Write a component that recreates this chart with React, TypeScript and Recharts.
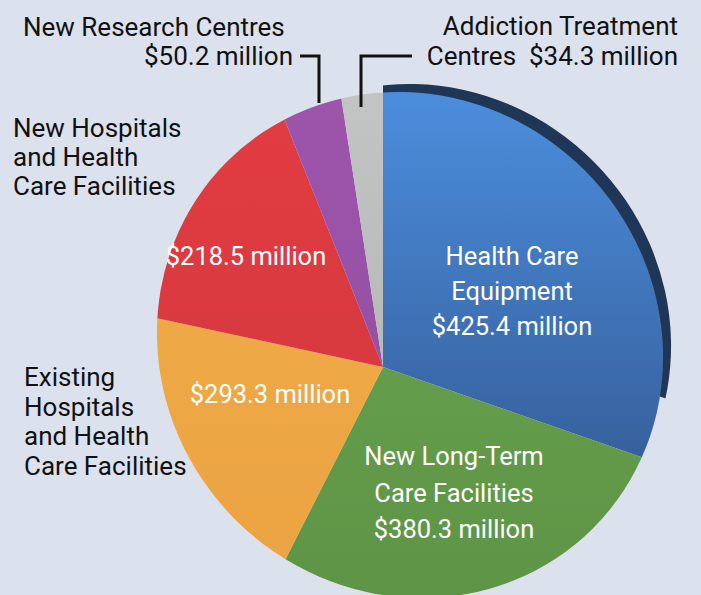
import React from 'react';
import { PieChart, Pie, Cell } from 'recharts';

const categories = [
  'Health Care Equipment',
  'New Long-Term Care Facilities',
  'Existing Hospitals and Health Care Facilities',
  'New Hospitals and Health Care Facilities',
  'New Research Centres',
  'Addiction Treatment Centres',
];
const values = [425.4, 380.3, 293.3, 218.5, 50.2, 34.3];
const nameLines = [
  ['Health Care', 'Equipment'],
  ['New Long-Term', 'Care Facilities'],
  ['Existing', 'Hospitals', 'and Health', 'Care Facilities'],
  ['New Hospitals', 'and Health', 'Care Facilities'],
  ['New Research Centres'],
  ['Addiction Treatment', 'Centres'],
];
const colorsTop = ['#4b8ddb', '#6aa852', '#f2ad48', '#e23c41', '#9d55ac', '#c2c4c3'];
const colorsBottom = ['#365f9b', '#5e9446', '#eba343', '#cf383e', '#8e4c9c', '#aeb1b0'];

const data = categories.map((name, i) => ({ name, value: values[i] }));
const money = (v: number) => `$${v.toFixed(1)} million`;

const FONT = "Roboto, 'Liberation Sans', Arial, sans-serif";
const FS = 26;

const lines = (
  arr: string[],
  x: number,
  y: number,
  lh: number,
  anchor: 'start' | 'middle' | 'end',
  fill: string,
  key: string,
  size: number = FS
) => (
  <text
    key={key}
    x={x}
    y={y}
    textAnchor={anchor}
    fill={fill}
    fontFamily={FONT}
    fontSize={size}
    style={{ whiteSpace: 'pre' }}
  >
    {arr.map((t, i) => (
      <tspan key={i} x={x} y={y + i * lh}>
        {t}
      </tspan>
    ))}
  </text>
);

const renderLabel = (props: any) => {
  const i = props.index;
  const v = values[i];
  const n = nameLines[i];
  if (i === 0) return <g key="l0">{lines([...n, money(v)], 512, 265, 35, 'middle', '#fff', 'a', 25.5)}</g>;
  if (i === 1) return <g key="l1">{lines([...n, money(v)], 454, 465, 36.5, 'middle', '#fff', 'a', 25.5)}</g>;
  if (i === 2)
    return (
      <g key="l2">
        {lines([money(v)], 270, 403, 30, 'middle', '#fff', 'a', 25.5)}
        {lines(n, 24, 386, 29.5, 'start', '#111', 'b')}
      </g>
    );
  if (i === 3)
    return (
      <g key="l3">
        {lines([money(v)], 246, 265, 30, 'middle', '#fff', 'a', 25.5)}
        {lines(n, 13, 137, 29, 'start', '#111', 'b')}
      </g>
    );
  if (i === 4)
    return (
      <g key="l4">
        {lines(n, 23, 36, 29, 'start', '#111', 'a')}
        {lines([money(v)], 293, 65, 29, 'end', '#111', 'b')}
        <polyline points="300,56 319,56 319,103" fill="none" stroke="#111" strokeWidth={3} />
      </g>
    );
  return (
    <g key="l5">
      {lines([n[0], `${n[1]}  ${money(v)}`], 678, 35, 30, 'end', '#111', 'a')}
      <polyline points="412,56 361,56 361,107" fill="none" stroke="#111" strokeWidth={3} />
    </g>
  );
};

export default function App() {
  return (
    <div
      style={{
        position: 'absolute',
        left: 0,
        top: 0,
        width: 701,
        height: 595,
        background: '#dce1ee',
        overflow: 'hidden',
      }}
    >
      <style>{`
        .main-pie .recharts-sector { clip-path: url(#pieClip); }
        .rim-pie .recharts-sector { clip-path: url(#rimClip); }
      `}</style>
      <svg width={0} height={0} style={{ position: 'absolute' }}>
        <defs>
          <clipPath id="pieClip">
            <ellipse cx={410} cy={345} rx={259} ry={247} transform="rotate(45 410 345)" />
          </clipPath>
          <clipPath id="rimClip">
            <ellipse cx={421} cy={334} rx={256} ry={244} transform="rotate(45 421 334)" />
          </clipPath>
          {colorsTop.map((c, i) => (
            <linearGradient
              key={i}
              id={`g${i}`}
              gradientUnits="userSpaceOnUse"
              x1={0}
              y1={100}
              x2={0}
              y2={i === 0 ? 470 : 590}
            >
              <stop offset="0%" stopColor={c} />
              <stop offset="100%" stopColor={colorsBottom[i]} />
            </linearGradient>
          ))}
        </defs>
      </svg>
      <PieChart width={701} height={595} margin={{ top: 0, right: 0, bottom: 0, left: 0 }}>
        <Pie
          className="rim-pie"
          data={data}
          dataKey="value"
          nameKey="name"
          cx={383}
          cy={300}
          innerRadius={0}
          outerRadius={340}
          startAngle={90}
          endAngle={-270}
          stroke="none"
          isAnimationActive={false}
          label={false}
          labelLine={false}
        >
          {data.map((d, i) => (
            <Cell key={i} fill={i === 0 ? '#1f3656' : 'none'} />
          ))}
        </Pie>
        <Pie
          className="main-pie"
          data={data}
          dataKey="value"
          nameKey="name"
          cx={383}
          cy={367}
          innerRadius={0}
          outerRadius={330}
          startAngle={90}
          endAngle={-270}
          stroke="none"
          isAnimationActive={false}
          label={renderLabel}
          labelLine={false}
        >
          {data.map((d, i) => (
            <Cell key={i} fill={`url(#g${i})`} />
          ))}
        </Pie>
      </PieChart>
    </div>
  );
}
